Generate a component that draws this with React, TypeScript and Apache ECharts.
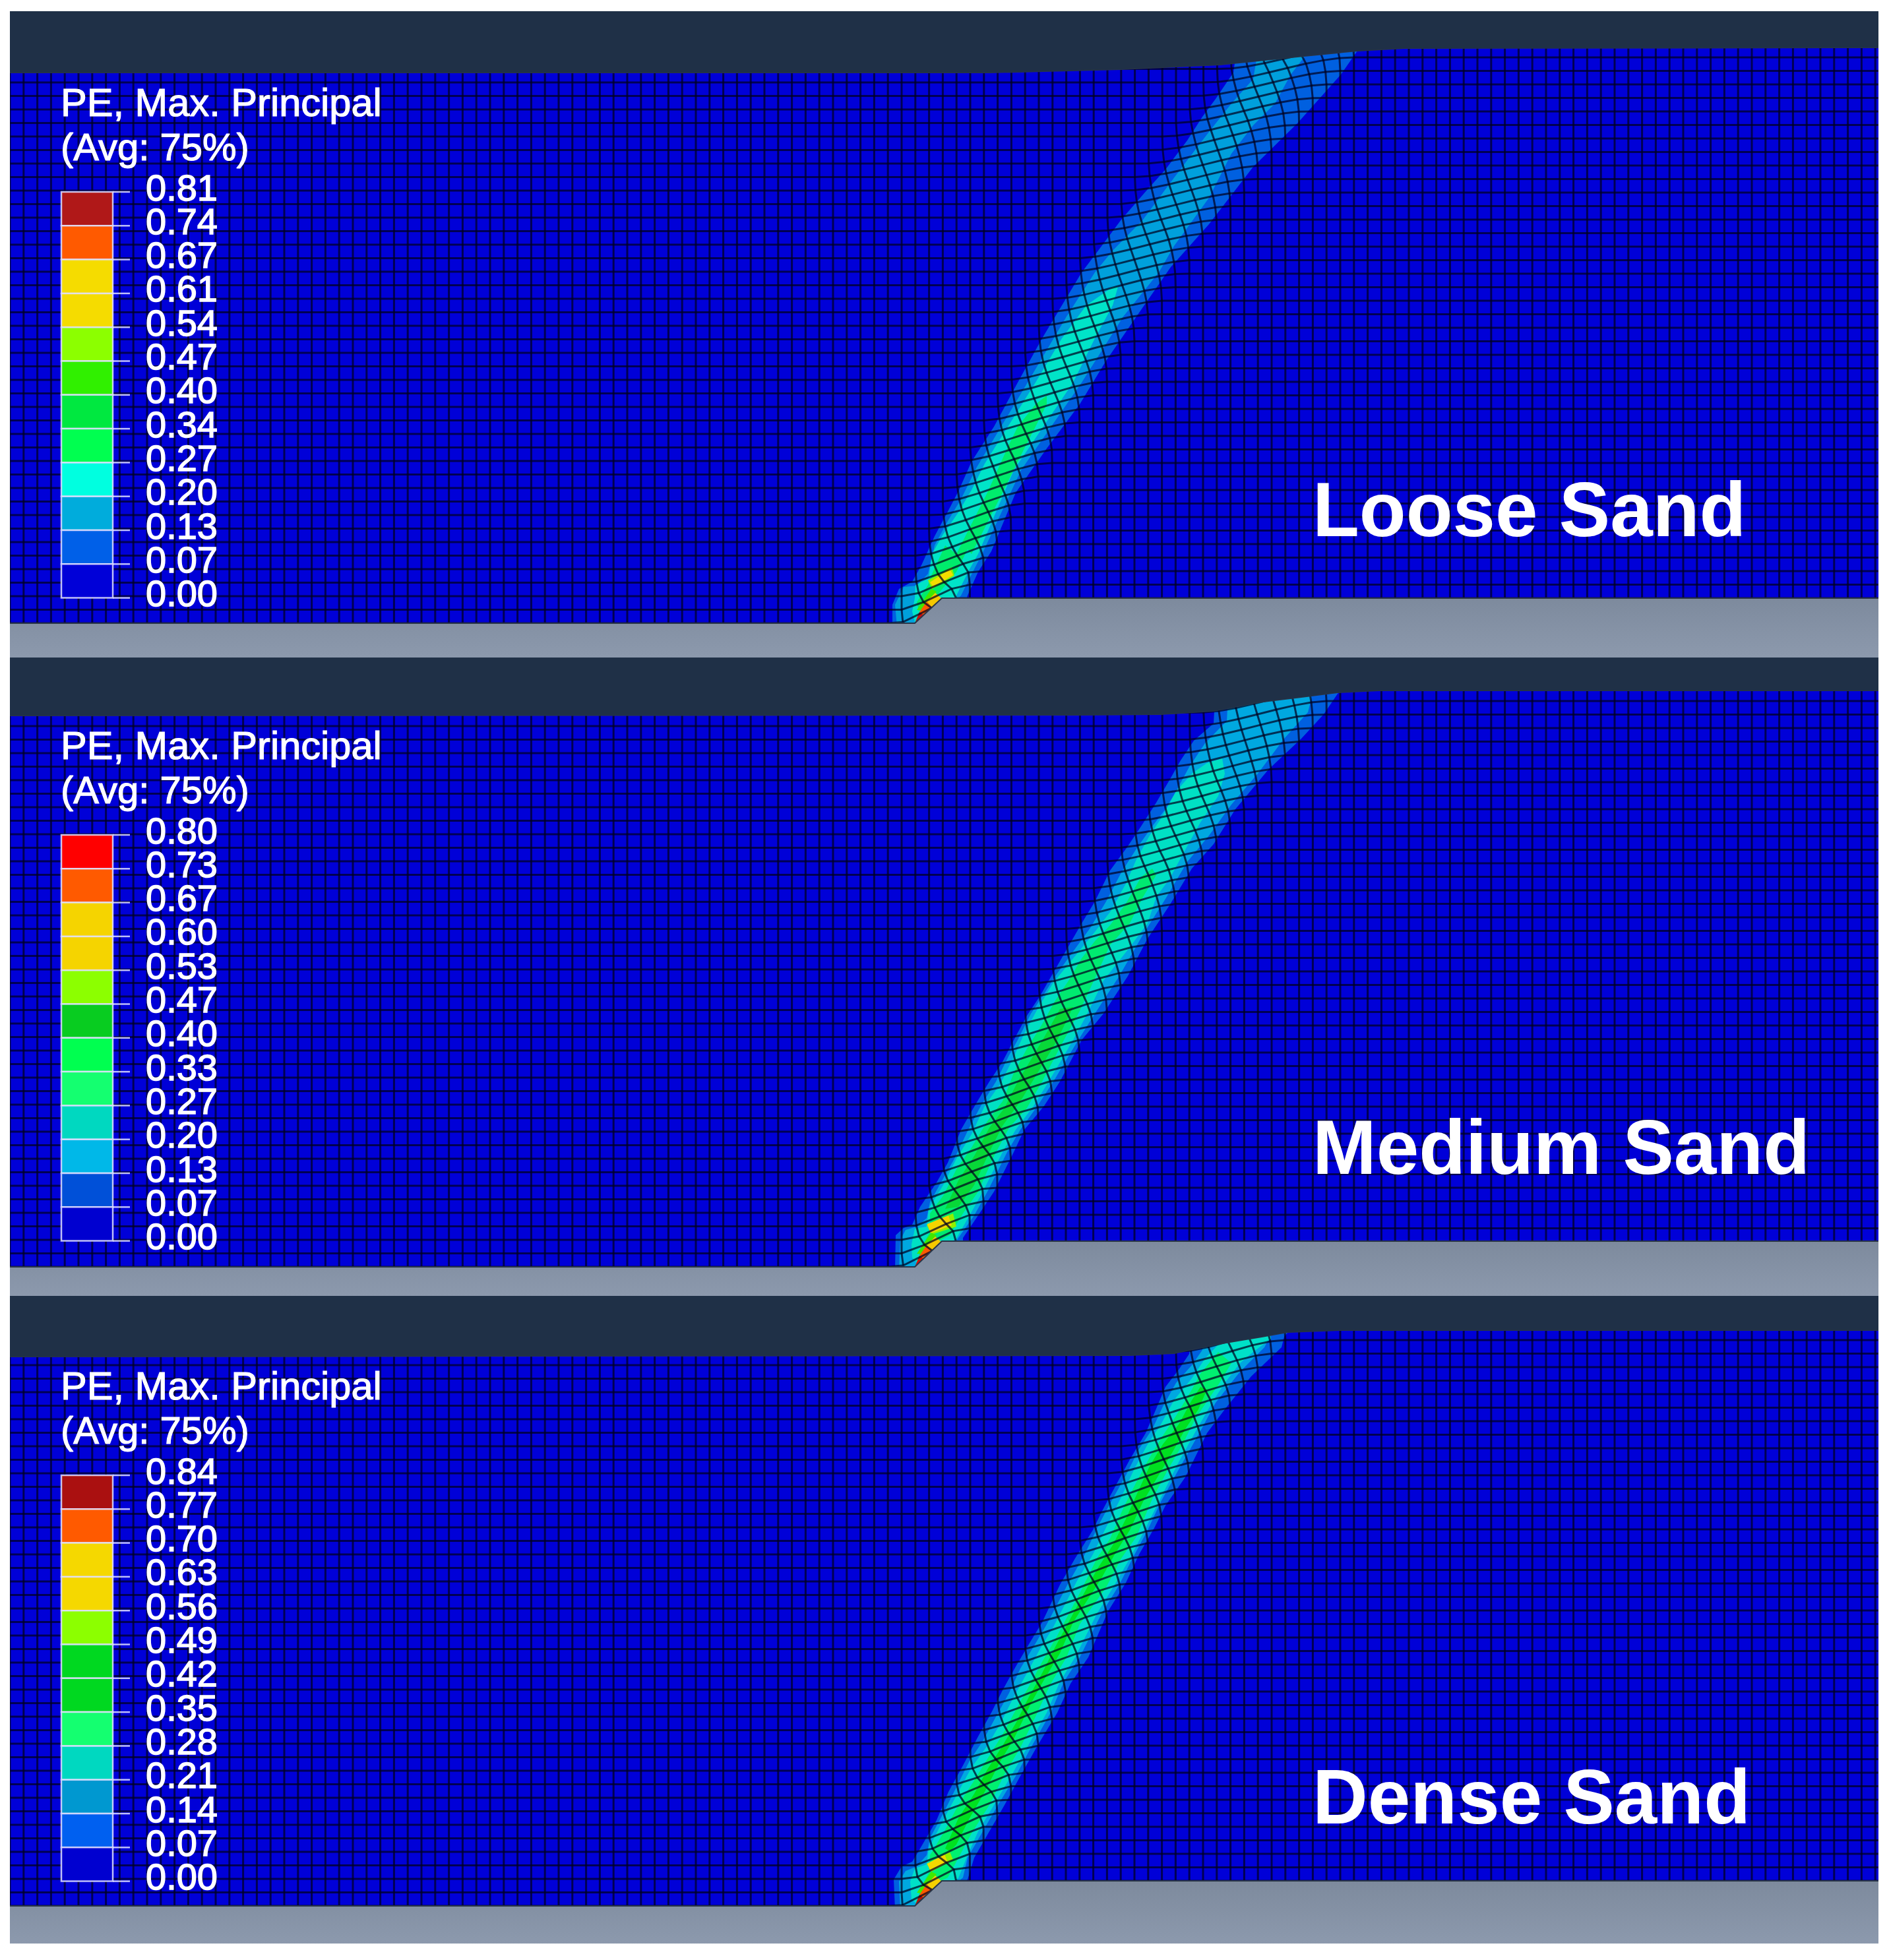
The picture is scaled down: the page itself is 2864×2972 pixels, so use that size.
import React, { useEffect, useRef } from "react";
import * as echarts from "echarts";

type P = [number, number];

// Picture-space axis limits of the three panels
const xRange: P = [15, 2848];
const meshPitchX = 20.8;
const meshPitchY = 20.5;
const slip: P = [41, -38];

// ---------- Loose sand ----------
const loosePlate: P[] = [[15, 110], [1500, 110], [1700, 105], [1850, 98], [1977, 85], [2058, 77], [2130, 73], [2848, 72]];
const looseBase: P[] = [[15, 945], [1387, 945], [1428, 907], [2848, 907], [2848, 997], [15, 997]];
const looseL1: P[] = [[1353, 950], [1353, 917], [1363, 893], [1383, 882], [1397, 857], [1417, 813], [1440, 770], [1453, 745], [1473, 700], [1507, 647], [1543, 580], [1580, 513], [1610, 463], [1640, 413], [1665, 380], [1700, 333], [1740, 287], [1767, 257], [1800, 213], [1823, 177], [1843, 150], [1870, 110], [1877, 60], [2075, 60], [2058, 77], [2033, 113], [1967, 187], [1900, 253], [1833, 340], [1775, 405], [1723, 480], [1677, 547], [1637, 613], [1587, 680], [1540, 747], [1503, 836], [1483, 867], [1467, 903], [1463, 915], [1400, 950]];
const looseL2: P[] = [[1360, 950], [1357, 917], [1370, 890], [1390, 888], [1407, 870], [1417, 827], [1437, 790], [1457, 757], [1480, 710], [1558, 580], [1617, 480], [1660, 413], [1687, 380], [1733, 333], [1767, 287], [1800, 243], [1833, 200], [1867, 157], [1900, 120], [1910, 60], [1985, 60], [1977, 87], [1957, 113], [1933, 157], [1900, 190], [1867, 233], [1833, 300], [1780, 373], [1757, 413], [1703, 480], [1640, 580], [1548, 713], [1490, 838], [1477, 863], [1457, 903], [1450, 910], [1400, 950]];
const looseL3: P[] = [[1387, 943], [1383, 927], [1387, 907], [1388, 887], [1408, 877], [1413, 840], [1430, 810], [1453, 777], [1473, 743], [1493, 703], [1570, 580], [1610, 513], [1647, 463], [1687, 435], [1695, 435], [1687, 463], [1660, 513], [1627, 580], [1537, 713], [1483, 840], [1470, 863], [1450, 903], [1447, 910], [1430, 910]];
const looseL4: P[] = [[1587, 600], [1570, 613], [1543, 647], [1527, 680], [1497, 747], [1450, 840], [1433, 827], [1410, 877], [1407, 887], [1390, 913], [1393, 927], [1423, 900], [1450, 867], [1467, 833], [1473, 840], [1520, 747], [1553, 680], [1570, 647], [1587, 613]];
const looseHotLime: P[] = [[1407, 880], [1443, 860], [1447, 873], [1413, 893]];
const looseHotYellow: P[] = [[1410, 883], [1440, 863], [1445, 872], [1415, 890]];
const looseTipLime: P[] = [[1390, 925], [1412, 893], [1420, 897], [1402, 925]];
const looseTipYellow: P[] = [[1418, 899], [1428, 908], [1413, 921], [1405, 912]];
const looseTipOrange: P[] = [[1405, 912], [1413, 921], [1401, 933], [1394, 928]];
const looseTipRed: P[] = [[1394, 928], [1401, 933], [1387, 945]];
const looseCentre: P[] = [[60, 1990], [100, 1945], [190, 1870], [380, 1730], [580, 1600], [700, 1525], [840, 1450], [926, 1405], [960, 1385]];
const looseSpread: P[] = [[60, 92], [380, 82], [700, 58], [840, 44], [926, 24]];
const looseTicks = ["0.81", "0.74", "0.67", "0.61", "0.54", "0.47", "0.40", "0.34", "0.27", "0.20", "0.13", "0.07", "0.00"];
const looseColours = ["#b01818", "#ff5a00", "#f5dc00", "#f5dc00", "#8cff00", "#30f000", "#00e840", "#00ff50", "#00ffe0", "#00acdc", "#0060e8", "#0000d8"];

// ---------- Medium sand ----------
const mediumPlate: P[] = [[15, 1085], [1640, 1084], [1760, 1083], [1840, 1078], [1907, 1065], [1973, 1057], [2028, 1050], [2090, 1047], [2848, 1047]];
const mediumBase: P[] = [[15, 1921], [1387, 1921], [1428, 1882], [2848, 1882], [2848, 1965], [15, 1965]];
const mediumL1: P[] = [[1357, 1925], [1358, 1873], [1370, 1862], [1383, 1857], [1395, 1830], [1420, 1793], [1437, 1763], [1457, 1713], [1480, 1673], [1500, 1640], [1520, 1610], [1537, 1577], [1557, 1540], [1577, 1510], [1590, 1487], [1640, 1400], [1660, 1367], [1683, 1320], [1710, 1283], [1730, 1253], [1753, 1217], [1773, 1183], [1790, 1153], [1810, 1123], [1840, 1097], [1843, 1040], [2040, 1040], [2028, 1052], [2007, 1083], [1973, 1120], [1923, 1167], [1873, 1227], [1840, 1280], [1807, 1317], [1773, 1373], [1740, 1423], [1710, 1480], [1673, 1537], [1640, 1577], [1607, 1640], [1583, 1677], [1553, 1713], [1537, 1747], [1507, 1807], [1483, 1843], [1460, 1877], [1460, 1890], [1388, 1925]];
const mediumL2: P[] = [[1363, 1925], [1365, 1880], [1373, 1865], [1390, 1860], [1405, 1847], [1410, 1823], [1430, 1787], [1447, 1757], [1468, 1713], [1487, 1677], [1510, 1640], [1530, 1600], [1543, 1577], [1563, 1537], [1583, 1507], [1600, 1480], [1653, 1407], [1677, 1367], [1700, 1323], [1723, 1287], [1747, 1253], [1767, 1227], [1783, 1200], [1803, 1163], [1827, 1127], [1860, 1093], [1863, 1040], [1988, 1040], [1988, 1060], [1983, 1080], [1947, 1120], [1907, 1173], [1867, 1220], [1833, 1267], [1800, 1307], [1767, 1363], [1733, 1417], [1697, 1480], [1660, 1537], [1633, 1580], [1597, 1640], [1573, 1677], [1547, 1713], [1527, 1747], [1497, 1807], [1477, 1843], [1453, 1877], [1445, 1890], [1388, 1925]];
const mediumL3: P[] = [[1383, 1907], [1382, 1887], [1387, 1863], [1405, 1860], [1408, 1833], [1430, 1797], [1450, 1757], [1473, 1720], [1493, 1677], [1517, 1643], [1537, 1603], [1553, 1567], [1573, 1530], [1597, 1490], [1660, 1413], [1683, 1383], [1707, 1340], [1723, 1303], [1743, 1267], [1763, 1237], [1783, 1200], [1807, 1173], [1830, 1157], [1853, 1150], [1857, 1173], [1847, 1207], [1820, 1247], [1800, 1283], [1773, 1333], [1753, 1360], [1740, 1400], [1710, 1440], [1673, 1487], [1647, 1540], [1627, 1577], [1590, 1640], [1567, 1677], [1540, 1713], [1520, 1747], [1490, 1807], [1470, 1843], [1450, 1878], [1430, 1890], [1400, 1925]];
const mediumL4: P[] = [[1392, 1900], [1410, 1868], [1410, 1840], [1430, 1813], [1450, 1773], [1473, 1740], [1497, 1700], [1520, 1670], [1537, 1627], [1557, 1590], [1580, 1553], [1600, 1517], [1620, 1487], [1640, 1453], [1660, 1427], [1683, 1403], [1707, 1370], [1730, 1330], [1747, 1317], [1753, 1327], [1733, 1360], [1713, 1400], [1683, 1433], [1657, 1490], [1637, 1533], [1613, 1577], [1580, 1640], [1557, 1680], [1530, 1710], [1507, 1753], [1483, 1807], [1460, 1840], [1440, 1873], [1423, 1882], [1400, 1910]];
const mediumL5: P[] = [[1433, 1833], [1453, 1790], [1477, 1753], [1500, 1710], [1523, 1680], [1543, 1640], [1563, 1607], [1583, 1573], [1607, 1530], [1627, 1527], [1603, 1577], [1573, 1627], [1547, 1670], [1520, 1707], [1500, 1747], [1477, 1797], [1453, 1830]];
const mediumHotLime: P[] = [[1405, 1857], [1445, 1840], [1450, 1860], [1412, 1872]];
const mediumHotYellow: P[] = [[1406, 1856], [1438, 1843], [1443, 1858], [1411, 1870]];
const mediumTipLime: P[] = [[1390, 1901], [1412, 1869], [1420, 1873], [1402, 1901]];
const mediumTipYellow: P[] = [[1418, 1875], [1428, 1884], [1413, 1897], [1405, 1888]];
const mediumTipOrange: P[] = [[1405, 1888], [1413, 1897], [1401, 1909], [1394, 1904]];
const mediumTipRed: P[] = [[1394, 1904], [1401, 1909], [1387, 1921]];
const mediumCentre: P[] = [[1040, 1945], [1060, 1925], [1170, 1855], [1320, 1745], [1480, 1648], [1640, 1553], [1807, 1450], [1900, 1405], [1940, 1385]];
const mediumSpread: P[] = [[1060, 86], [1320, 68], [1640, 48], [1800, 40], [1900, 24]];
const mediumTicks = ["0.80", "0.73", "0.67", "0.60", "0.53", "0.47", "0.40", "0.33", "0.27", "0.20", "0.13", "0.07", "0.00"];
const mediumColours = ["#ff0000", "#ff5a00", "#f5d400", "#f5d400", "#8cff00", "#08cc20", "#00ff50", "#14ff70", "#00d8c0", "#00b8e8", "#0050d8", "#0000d0"];

// ---------- Dense sand ----------
const densePlate: P[] = [[15, 2057], [1713, 2055], [1780, 2052], [1847, 2038], [1913, 2027], [1952, 2020], [2030, 2017], [2848, 2017]];
const denseBase: P[] = [[15, 2890], [1387, 2890], [1428, 2852], [2848, 2852], [2848, 2947], [15, 2947]];
const denseL1: P[] = [[1357, 2895], [1355, 2850], [1367, 2830], [1383, 2823], [1395, 2803], [1420, 2760], [1438, 2717], [1460, 2677], [1483, 2633], [1503, 2597], [1520, 2563], [1540, 2527], [1560, 2493], [1580, 2460], [1607, 2403], [1630, 2363], [1657, 2320], [1670, 2293], [1693, 2250], [1713, 2213], [1737, 2173], [1750, 2143], [1767, 2103], [1787, 2077], [1803, 2053], [1807, 2005], [1965, 2005], [1947, 2027], [1943, 2043], [1897, 2087], [1857, 2137], [1830, 2173], [1797, 2240], [1767, 2283], [1750, 2317], [1727, 2357], [1707, 2400], [1680, 2443], [1650, 2513], [1623, 2553], [1603, 2597], [1573, 2647], [1547, 2693], [1523, 2737], [1500, 2777], [1477, 2817], [1467, 2850], [1455, 2860], [1388, 2895]];
const denseL2: P[] = [[1365, 2895], [1363, 2853], [1373, 2837], [1390, 2830], [1405, 2813], [1410, 2787], [1430, 2750], [1450, 2710], [1470, 2670], [1490, 2640], [1510, 2603], [1530, 2567], [1547, 2530], [1567, 2497], [1587, 2463], [1620, 2400], [1643, 2360], [1667, 2310], [1683, 2280], [1707, 2237], [1727, 2197], [1747, 2167], [1763, 2133], [1783, 2097], [1807, 2070], [1823, 2047], [1823, 2005], [1930, 2005], [1925, 2027], [1917, 2043], [1880, 2080], [1843, 2127], [1820, 2170], [1790, 2223], [1760, 2277], [1740, 2320], [1717, 2363], [1697, 2403], [1670, 2447], [1637, 2513], [1613, 2550], [1593, 2597], [1563, 2650], [1540, 2693], [1513, 2737], [1490, 2777], [1467, 2817], [1460, 2847], [1445, 2860], [1388, 2895]];
const denseL3: P[] = [[1382, 2880], [1380, 2853], [1387, 2833], [1405, 2827], [1408, 2803], [1430, 2760], [1453, 2717], [1473, 2680], [1497, 2647], [1517, 2613], [1537, 2573], [1557, 2537], [1577, 2500], [1597, 2467], [1633, 2397], [1657, 2357], [1680, 2310], [1700, 2270], [1720, 2227], [1740, 2190], [1760, 2160], [1780, 2123], [1807, 2090], [1827, 2060], [1843, 2043], [1873, 2010], [1923, 2010], [1927, 2030], [1900, 2050], [1880, 2067], [1857, 2097], [1840, 2123], [1813, 2170], [1787, 2217], [1757, 2277], [1737, 2317], [1713, 2363], [1690, 2403], [1663, 2447], [1630, 2513], [1607, 2550], [1587, 2597], [1557, 2650], [1533, 2693], [1507, 2737], [1483, 2777], [1467, 2813], [1453, 2848], [1430, 2860], [1400, 2895]];
const denseL4: P[] = [[1392, 2870], [1408, 2840], [1410, 2813], [1430, 2780], [1453, 2737], [1477, 2700], [1497, 2667], [1520, 2630], [1540, 2593], [1560, 2557], [1580, 2520], [1603, 2480], [1640, 2410], [1663, 2363], [1683, 2333], [1703, 2287], [1723, 2247], [1743, 2210], [1763, 2177], [1783, 2147], [1807, 2107], [1820, 2083], [1847, 2050], [1867, 2067], [1847, 2100], [1813, 2150], [1793, 2190], [1770, 2230], [1747, 2273], [1723, 2330], [1700, 2363], [1677, 2407], [1637, 2463], [1617, 2513], [1593, 2553], [1570, 2603], [1547, 2650], [1523, 2690], [1500, 2737], [1473, 2780], [1457, 2810], [1437, 2847], [1425, 2853], [1400, 2880]];
const denseL5: P[] = [[1433, 2803], [1453, 2757], [1477, 2720], [1497, 2683], [1520, 2647], [1540, 2613], [1560, 2573], [1580, 2537], [1600, 2497], [1643, 2417], [1663, 2380], [1687, 2343], [1707, 2303], [1723, 2267], [1743, 2223], [1763, 2190], [1787, 2160], [1807, 2123], [1820, 2103], [1830, 2107], [1817, 2137], [1797, 2167], [1777, 2203], [1753, 2243], [1733, 2277], [1713, 2320], [1690, 2357], [1670, 2393], [1627, 2460], [1607, 2507], [1583, 2547], [1563, 2583], [1537, 2637], [1517, 2670], [1493, 2717], [1470, 2757], [1450, 2797], [1440, 2807]];
const denseHotLime: P[] = [[1405, 2826], [1440, 2808], [1445, 2820], [1412, 2838]];
const denseHotYellow: P[] = [[1406, 2826], [1432, 2812], [1437, 2824], [1411, 2838]];
const denseTipLime: P[] = [[1390, 2870], [1412, 2838], [1420, 2842], [1402, 2870]];
const denseTipYellow: P[] = [[1418, 2844], [1428, 2853], [1413, 2866], [1405, 2857]];
const denseTipOrange: P[] = [[1405, 2857], [1413, 2866], [1401, 2878], [1394, 2873]];
const denseTipRed: P[] = [[1394, 2873], [1401, 2878], [1387, 2890]];
const denseCentre: P[] = [[2005, 1905], [2030, 1875], [2133, 1803], [2280, 1722], [2443, 1633], [2640, 1530], [2777, 1450], [2870, 1405], [2910, 1385]];
const denseSpread: P[] = [[2030, 68], [2280, 48], [2640, 40], [2870, 22]];
const denseTicks = ["0.84", "0.77", "0.70", "0.63", "0.56", "0.49", "0.42", "0.35", "0.28", "0.21", "0.14", "0.07", "0.00"];
const denseColours = ["#aa1010", "#ff5a00", "#f5d800", "#f5d800", "#8cff00", "#00d820", "#00d820", "#14ff70", "#00d8c0", "#0098d0", "#0060f0", "#0000d0"];

const panels = [
  {
    name: "Loose Sand", top: 17, bottom: 997, baseY: 945, barTop: 291, nameY: 773,
    plate: loosePlate, base: looseBase, centre: looseCentre, spread: looseSpread, ticks: looseTicks, colours: looseColours,
    bands: [[looseL1, "#0060e0"], [looseL2, "#00a0dc"], [looseL3, "#00e4c8"], [looseL4, "#00ec6c"], [looseHotLime, "#90f000"], [looseHotYellow, "#f5dc00"], [looseTipLime, "#40e800"], [looseTipYellow, "#f5c800"], [looseTipOrange, "#ff5a00"], [looseTipRed, "#c81010"]],
  },
  {
    name: "Medium Sand", top: 997, bottom: 1965, baseY: 1921, barTop: 1266, nameY: 1740,
    plate: mediumPlate, base: mediumBase, centre: mediumCentre, spread: mediumSpread, ticks: mediumTicks, colours: mediumColours,
    bands: [[mediumL1, "#0060e0"], [mediumL2, "#00a8e0"], [mediumL3, "#00e0c4"], [mediumL4, "#00ea70"], [mediumL5, "#08d838"], [mediumHotLime, "#90f000"], [mediumHotYellow, "#f5d400"], [mediumTipLime, "#40e800"], [mediumTipYellow, "#f5c800"], [mediumTipOrange, "#ff5a00"], [mediumTipRed, "#e01000"]],
  },
  {
    name: "Dense Sand", top: 1965, bottom: 2947, baseY: 2890, barTop: 2237, nameY: 2725,
    plate: densePlate, base: denseBase, centre: denseCentre, spread: denseSpread, ticks: denseTicks, colours: denseColours,
    bands: [[denseL1, "#0060e0"], [denseL2, "#00a8e0"], [denseL3, "#00e0c8"], [denseL4, "#00f070"], [denseL5, "#00e020"], [denseHotLime, "#90f000"], [denseHotYellow, "#f5d800"], [denseTipLime, "#40e800"], [denseTipYellow, "#f5d000"], [denseTipOrange, "#ff5a00"], [denseTipRed, "#c01000"]],
  },
] as any[];

const lerp = (table: P[], y: number) => {
  if (y <= table[0][0]) return table[0][1];
  for (let i = 1; i < table.length; i++) {
    if (y <= table[i][0]) {
      const f = (y - table[i - 1][0]) / (table[i][0] - table[i - 1][0]);
      return table[i - 1][1] + f * (table[i][1] - table[i - 1][1]);
    }
  }
  return table[table.length - 1][1];
};

// Element mesh: a square grid sheared across the band by the fault slip.
const buildMesh = (p: any): P[][] => {
  const rows: number[] = [];
  for (let y = p.baseY; y > p.top - 40; y -= meshPitchY) rows.push(y);
  const cols: number[] = [];
  for (let x = xRange[0]; x < xRange[1]; x += meshPitchX) cols.push(x);
  const node = (x: number, y: number): P => {
    const yMid = y + slip[1] / 2;
    const t = (x + slip[0] / 2 - lerp(p.centre, yMid)) / lerp(p.spread, yMid);
    const c = Math.max(-1, Math.min(1, t));
    const s = 0.5 + 0.5 * Math.sin((c * Math.PI) / 2);
    return [x + s * slip[0], y + s * slip[1]];
  };
  const lines: P[][] = [];
  rows.forEach((y) => lines.push(cols.map((x) => node(x, y))));
  cols.forEach((x) => lines.push(rows.map((y) => node(x, y))));
  return lines;
};

const App = () => {
  const ref = useRef<HTMLDivElement>(null);
  useEffect(() => {
    document.body.style.margin = "0";
    const chart = echarts.init(ref.current!, undefined, { renderer: "svg" });
    const font = "'Liberation Sans', Arial, sans-serif";
    const grids: any[] = [], xAxes: any[] = [], yAxes: any[] = [], series: any[] = [], graphic: any[] = [];

    panels.forEach((p, idx) => {
      const mesh = buildMesh(p);
      const plateShape: P[] = [[xRange[0], p.top], [xRange[1], p.top], ...[...p.plate].reverse()];
      const layers: any[] = [
        { pts: [[xRange[0], p.top], [xRange[1], p.top], [xRange[1], p.bottom], [xRange[0], p.bottom]], fill: "#0000d8" },
        ...p.bands.map((b: any) => ({ pts: b[0], fill: b[1] })),
        ...mesh.map((m) => ({ pts: m, line: true })),
        { pts: p.plate, edge: true },
        { pts: plateShape, fill: "#1f3047" },
        { pts: p.base, fill: new echarts.graphic.LinearGradient(0, 0, 0, 1, [{ offset: 0, color: "#7d8a9d" }, { offset: 1, color: "#8c99ad" }]) },
        { pts: p.base.slice(0, 4), edge: true },
      ];
      grids.push({ left: xRange[0], width: xRange[1] - xRange[0], top: p.top, height: p.bottom - p.top, show: false });
      xAxes.push({ type: "value", gridIndex: idx, min: xRange[0], max: xRange[1], show: false });
      yAxes.push({ type: "value", gridIndex: idx, min: p.top, max: p.bottom, inverse: true, show: false });
      series.push({
        type: "custom", xAxisIndex: idx, yAxisIndex: idx, clip: true, silent: true, progressive: 0,
        name: p.name,
        data: layers.map((l) => [l.pts[0][0], l.pts[0][1]]),
        renderItem: (params: any, api: any) => {
          const l = layers[params.dataIndex];
          const points = l.pts.map((q: P) => api.coord(q));
          if (l.line) return { type: "polyline", silent: true, shape: { points }, style: { fill: null, stroke: "rgba(0,0,30,0.72)", lineWidth: 3 } };
          if (l.edge) return { type: "polyline", silent: true, shape: { points }, style: { fill: null, stroke: "#2a3648", lineWidth: 2 } };
          return { type: "polygon", silent: true, shape: { points }, style: { fill: l.fill, stroke: null, lineWidth: 0 } };
        },
      });

      // Legend
      const barLeft = 93, barRight = 171, tickRight = 197, step = 51.3;
      const lineColour = "rgba(225,225,255,0.85)";
      p.colours.forEach((c: string, i: number) => {
        graphic.push({ type: "rect", silent: true, z: 20, shape: { x: barLeft, y: p.barTop + i * step, width: barRight - barLeft, height: step }, style: { fill: c, stroke: lineColour, lineWidth: 2.5 } });
      });
      p.ticks.forEach((t: string, i: number) => {
        const y = p.barTop + i * step;
        graphic.push({ type: "line", silent: true, z: 21, shape: { x1: barRight, y1: y, x2: tickRight, y2: y }, style: { stroke: lineColour, lineWidth: 2.5 } });
        graphic.push({ type: "text", silent: true, z: 22, style: { x: 221, y: y - 7, text: t, fill: "#ffffff", stroke: "#ffffff", lineWidth: 1.4, fontSize: 56, fontFamily: font, align: "left", verticalAlign: "middle" } });
      });
      graphic.push({ type: "text", silent: true, z: 22, style: { x: 92, y: p.barTop - 136, text: "PE, Max. Principal", fill: "#ffffff", stroke: "#ffffff", lineWidth: 1.2, fontSize: 59.6, fontFamily: font, align: "left", verticalAlign: "middle" } });
      graphic.push({ type: "text", silent: true, z: 22, style: { x: 92, y: p.barTop - 69, text: "(Avg: 75%)", fill: "#ffffff", stroke: "#ffffff", lineWidth: 1.2, fontSize: 58, fontFamily: font, align: "left", verticalAlign: "middle" } });
      graphic.push({ type: "text", silent: true, z: 22, style: { x: 1990, y: p.nameY, text: p.name, fill: "#ffffff", fontSize: 116, fontWeight: "bold", fontFamily: font, align: "left", verticalAlign: "middle" } });
    });

    chart.setOption({ animation: false, backgroundColor: "#ffffff", tooltip: { show: false }, grid: grids, xAxis: xAxes, yAxis: yAxes, series, graphic });
    return () => chart.dispose();
  }, []);
  return <div ref={ref} style={{ position: "absolute", left: 0, top: 0, width: 2864, height: 2972 }} />;
};

export default App;
